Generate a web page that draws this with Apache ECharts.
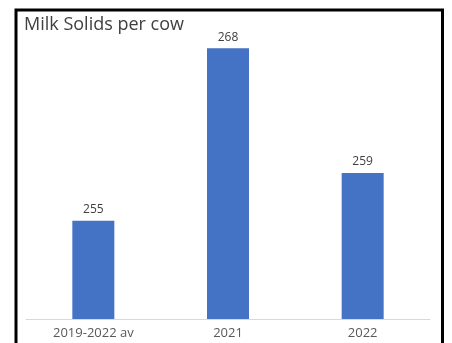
<!DOCTYPE html>
<html>
<head>
<meta charset="utf-8">
<script src="https://cdn.jsdelivr.net/npm/echarts@6/dist/echarts.min.js"></script>
<style>
  html, body { margin: 0; padding: 0; background: #fff; }
  #chart { width: 452px; height: 343px; }
</style>
</head>
<body>
<div id="chart"></div>
<script>
const categories = ['2019-2022 av', '2021', '2022']
// labels show whole numbers; bar heights suggest slightly fractional values
const solids = [255.4, 268.4, 259.0]
const FONT = '"Open Sans", "Noto Sans", sans-serif'

const chart = echarts.init(document.getElementById('chart'))

chart.setOption({
  animation: false,
  backgroundColor: '#fff',
  title: {
    text: 'Milk Solids per cow',
    left: 24,
    top: 16,
    padding: 0,
    textStyle: { fontFamily: FONT, fontSize: 18, fontWeight: 'normal', color: '#404040' }
  },
  grid: { left: 26, right: 22, top: 27, bottom: 24 },
  xAxis: {
    type: 'category',
    data: categories,
    axisLine: { lineStyle: { color: '#d9d9d9', width: 1 } },
    axisTick: { show: false },
    axisLabel: { margin: 8, fontFamily: FONT, fontSize: 13, color: '#595959' }
  },
  yAxis: {
    type: 'value',
    min: 248,
    max: 270,
    show: false,
    splitLine: { show: false }
  },
  series: [
    {
      type: 'bar',
      data: solids,
      barWidth: 42,
      itemStyle: { color: '#4472c4' },
      label: {
        show: true,
        position: 'top',
        distance: 5,
        fontFamily: FONT,
        fontSize: 12,
        color: '#404040',
        formatter: (p) => Math.round(p.value)
      }
    }
  ],
  graphic: [
    {
      type: 'rect',
      silent: true,
      shape: { x: 16, y: 10, width: 426.5, height: 345 },
      style: { fill: null, stroke: '#000', lineWidth: 3 }
    }
  ]
})
</script>
</body>
</html>
